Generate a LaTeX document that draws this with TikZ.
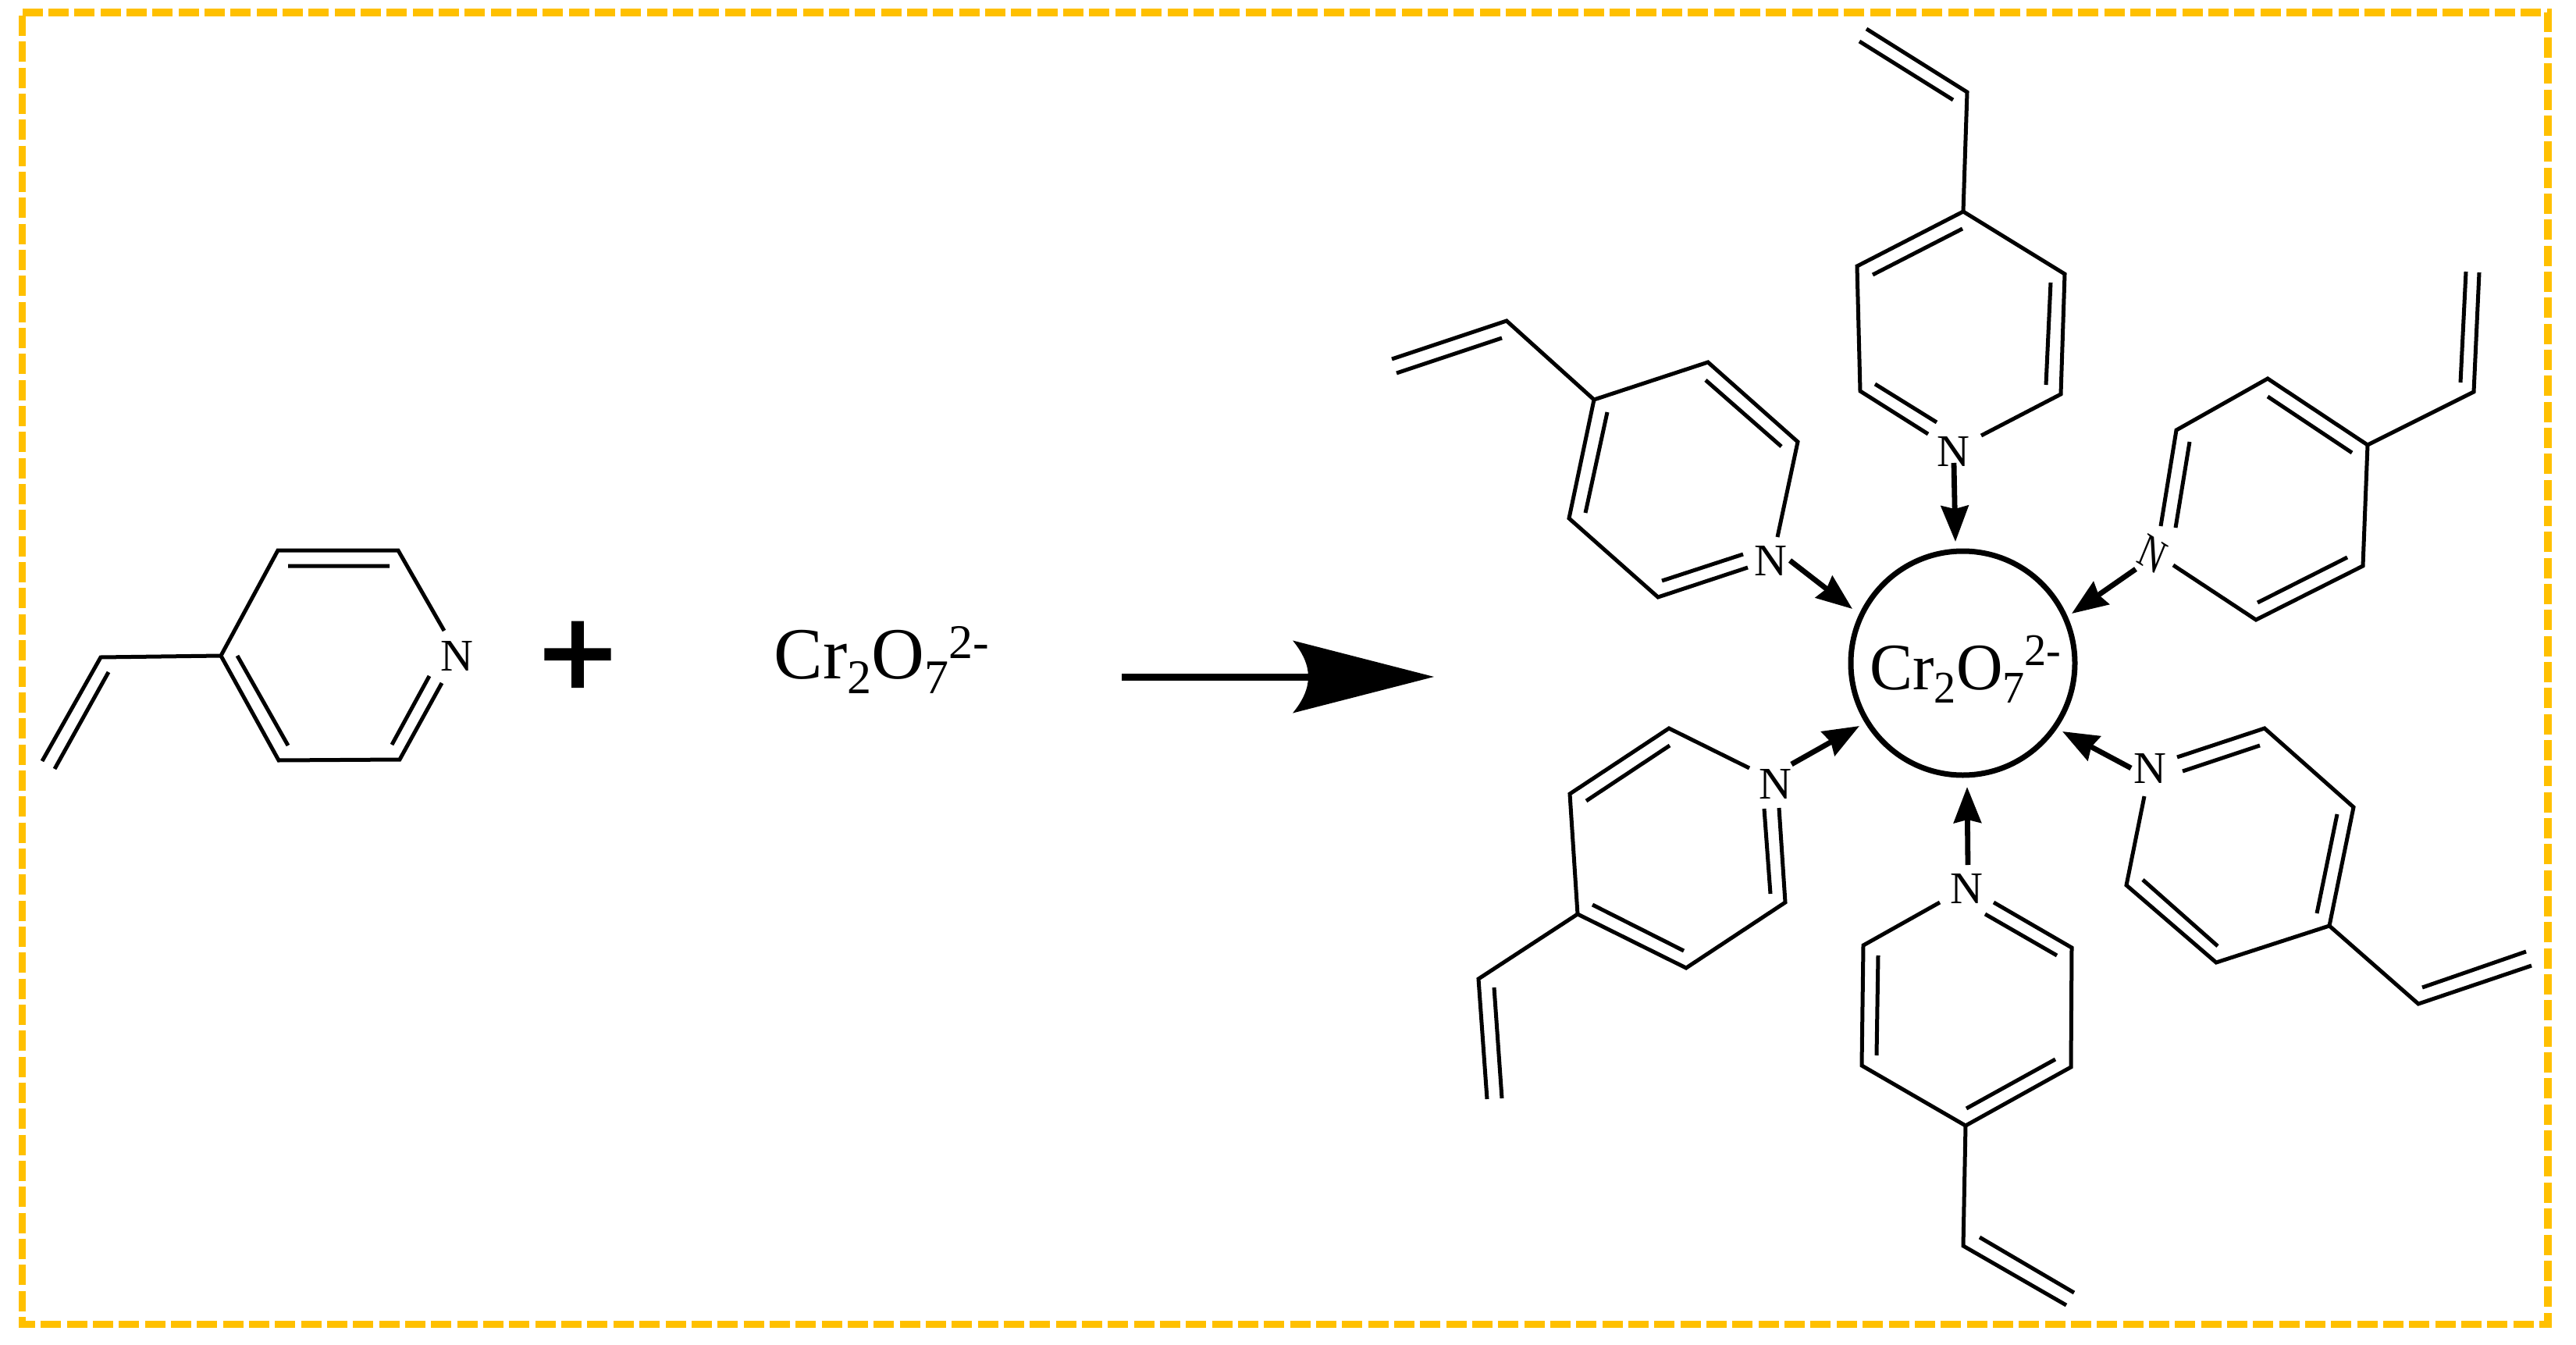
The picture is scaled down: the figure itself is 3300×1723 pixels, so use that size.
\documentclass[tikz,border=0pt]{standalone}
\usepackage{fontspec}
\setmainfont{Liberation Serif}
\newfontfamily\plusfont[FakeBold=2]{Liberation Serif Bold}
\usetikzlibrary{arrows.meta}
\definecolor{framegold}{HTML}{FFC000}
% big reaction arrow head with a concave back (sizes in pt, 1 px = 0.5 pt)
\pgfdeclarearrow{
  name=BigHead,
  setup code={
    \pgfarrowssettipend{90.5pt}
    \pgfarrowssetbackend{0pt}
    \pgfarrowssetlineend{13pt}
    \pgfarrowssetvisualbackend{10pt}
  },
  drawing code={
    \pgfpathmoveto{\pgfqpoint{90.5pt}{0pt}}
    \pgfpathlineto{\pgfqpoint{0pt}{23.25pt}}
    \pgfpathcurveto{\pgfqpoint{13.3pt}{7pt}}{\pgfqpoint{13.3pt}{-7pt}}{\pgfqpoint{0pt}{-23.25pt}}
    \pgfpathclose
    \pgfusepathqfill
  }
}
\newcommand{\crformula}[5]{\fontsize{#1}{#1}\selectfont Cr\raisebox{-#3}{\fontsize{#2}{#2}\selectfont 2}O\raisebox{-#3}{\fontsize{#2}{#2}\selectfont 7}\raisebox{#4}{\fontsize{#2}{#2}\selectfont 2#5}}
\tikzset{
  bondline/.style={line width=2.5pt,line join=miter,black},
  ligarrow/.style={line width=3.4pt,-{Stealth[length=23pt,width=17.5pt,inset=2pt]}},
  atomN/.style={inner sep=0pt,font=\fontsize{29}{29}\selectfont},
  frameline/.style={draw=framegold,line width=4.75pt,dash pattern=on 13pt off 3.67pt},
  ionlabel/.style={inner sep=0pt,anchor=base west},
}
\begin{document}
\begin{tikzpicture}[x=0.5pt,y=-0.5pt]
\useasboundingbox (0,0) rectangle (3300,1723);
% frame
\coordinate (f0) at (28.5,20);
\coordinate (f1) at (28.5,1696.5);
\coordinate (f2) at (3264,1696.5);
\coordinate (f3) at (3264,16);
\coordinate (f4) at (28.5,16);
\draw[frameline] (f0) -- (f1) -- (f2) -- (f3) -- (f4);
% ---------- free 4-vinylpyridine
\coordinate (a1) at (54,975); \coordinate (a2) at (129,842); \coordinate (a3) at (283,840);
\coordinate (a4) at (356,705); \coordinate (a5) at (510,705); \coordinate (a6) at (569,808);
\coordinate (a7) at (566,875); \coordinate (a8) at (512,973); \coordinate (a9) at (357,974);
\coordinate (ai1) at (70,985); \coordinate (ai2) at (139,861);
\coordinate (ai3) at (304,840); \coordinate (ai4) at (369,955);
\coordinate (ai5) at (369,725); \coordinate (ai6) at (499,725);
\coordinate (ai7) at (550,866); \coordinate (ai8) at (502,954);
\node[atomN] (Na) at (585,841) {N};
\draw[bondline] (a1)--(a2)--(a3)--(a4)--(a5)--(a6);
\draw[bondline] (a7)--(a8)--(a9)--(a3);
\draw[bondline] (ai1)--(ai2) (ai3)--(ai4) (ai5)--(ai6) (ai7)--(ai8);
% plus and dichromate
\node[inner sep=0pt,font=\fontsize{88}{88}\selectfont\plusfont] (plus) at (740,847) {+};
\node[ionlabel] (crleft) at (991,869) {\crformula{47pt}{31pt}{9.5pt}{13pt}{-}};
% reaction arrow
\coordinate (ra) at (1437,867);
\coordinate (rb) at (1837,867);
\draw[line width=4.5pt,-{BigHead}] (ra) -- (rb);
% ---------- central ion
\node[circle,draw,line width=3.5pt,minimum size=143.5pt,inner sep=0pt] (core) at (2514.5,849.5) {};
\node[ionlabel] (crcore) at (2395,883) {\scalebox{0.97}[1]{\crformula{42.5pt}{29pt}{8.5pt}{15.5pt}{-}}};
% ---------- top ligand
\coordinate (t1) at (2391,37); \coordinate (t2) at (2520,118); \coordinate (t3) at (2515,271);
\coordinate (t4) at (2379,341); \coordinate (t5) at (2383,501); \coordinate (t6) at (2470,556);
\coordinate (t7) at (2538,558); \coordinate (t8) at (2640,505); \coordinate (t9) at (2645,351);
\coordinate (ti1) at (2382,53); \coordinate (ti2) at (2502,128);
\coordinate (ti3) at (2514,293); \coordinate (ti4) at (2399,352);
\coordinate (ti5) at (2402,492); \coordinate (ti6) at (2481,541);
\coordinate (ti7) at (2627,362); \coordinate (ti8) at (2621,493);
\node[atomN] (Nt) at (2502,579) {N};
\draw[bondline] (t1)--(t2)--(t3)--(t4)--(t5)--(t6);
\draw[bondline] (t7)--(t8)--(t9)--(t3);
\draw[bondline] (ti1)--(ti2) (ti3)--(ti4) (ti5)--(ti6) (ti7)--(ti8);
\coordinate (ta) at (2503,593); \coordinate (tb) at (2505,694);
\draw[ligarrow] (ta) -- (tb);
% ---------- upper-left ligand
\coordinate (u1) at (1783,460); \coordinate (u2) at (1930,411); \coordinate (u3) at (2042,512);
\coordinate (u4) at (2188,464); \coordinate (u5) at (2303,566); \coordinate (u6) at (2277,688);
\coordinate (u7) at (2239,727); \coordinate (u8) at (2124,765); \coordinate (u9) at (2010,664);
\coordinate (ui1) at (1789,478); \coordinate (ui2) at (1924,433);
\coordinate (ui3) at (2185,487); \coordinate (ui4) at (2282,572);
\coordinate (ui5) at (2059,528); \coordinate (ui6) at (2031,657);
\coordinate (ui7) at (2129,744); \coordinate (ui8) at (2233,710);
\node[atomN] (Nu) at (2268,719) {N};
\draw[bondline] (u1)--(u2)--(u3)--(u4)--(u5)--(u6);
\draw[bondline] (u7)--(u8)--(u9)--(u3);
\draw[bondline] (ui1)--(ui2) (ui3)--(ui4) (ui5)--(ui6) (ui7)--(ui8);
\coordinate (ua) at (2293,718); \coordinate (ub) at (2373,780);
\draw[ligarrow] (ua) -- (ub);
% ---------- upper-right ligand
\coordinate (r1) at (3176,349); \coordinate (r2) at (3169,502); \coordinate (r3) at (3033,570);
\coordinate (r4) at (2905,485); \coordinate (r5) at (2788,551); \coordinate (r6) at (2768,674);
\coordinate (r7) at (2784,724); \coordinate (r8) at (2890,794); \coordinate (r9) at (3027,725);
\coordinate (ri1) at (3159,348); \coordinate (ri2) at (3152,490);
\coordinate (ri3) at (3013,580); \coordinate (ri4) at (2905,508);
\coordinate (ri5) at (2805,566); \coordinate (ri6) at (2787,676);
\coordinate (ri7) at (3007,714); \coordinate (ri8) at (2892,772);
\node[atomN,transform shape,cm={0.685,-0.42,0.40,0.97,(2757,710)}] (Nr) at (0,0) {N};
\draw[bondline] (r1)--(r2)--(r3)--(r4)--(r5)--(r6);
\draw[bondline] (r7)--(r8)--(r9)--(r3);
\draw[bondline] (ri1)--(ri2) (ri3)--(ri4) (ri5)--(ri6) (ri7)--(ri8);
\coordinate (ra1) at (2736,729); \coordinate (rb1) at (2654,786);
\draw[ligarrow] (ra1) -- (rb1);
% ---------- lower-left ligand
\coordinate (l1) at (1905,1408); \coordinate (l2) at (1894,1254); \coordinate (l3) at (2021,1171);
\coordinate (l4) at (2011,1017); \coordinate (l5) at (2138,933); \coordinate (l6) at (2241,984);
\coordinate (l7) at (2279,1035); \coordinate (l8) at (2287,1156); \coordinate (l9) at (2160,1240);
\coordinate (li1) at (1924,1407); \coordinate (li2) at (1914,1265);
\coordinate (li3) at (2032,1026); \coordinate (li4) at (2139,955);
\coordinate (li5) at (2260,1036); \coordinate (li6) at (2268,1145);
\coordinate (li7) at (2157,1218); \coordinate (li8) at (2040,1159);
\node[atomN] (Nl) at (2274,1005) {N};
\draw[bondline] (l1)--(l2)--(l3)--(l4)--(l5)--(l6);
\draw[bondline] (l7)--(l8)--(l9)--(l3);
\draw[bondline] (li1)--(li2) (li3)--(li4) (li5)--(li6) (li7)--(li8);
\coordinate (la) at (2295,979); \coordinate (lb) at (2382,930);
\draw[ligarrow] (la) -- (lb);
% ---------- bottom ligand
\coordinate (b1) at (2647,1672); \coordinate (b2) at (2515,1596); \coordinate (b3) at (2518,1442);
\coordinate (b4) at (2385,1365); \coordinate (b5) at (2387,1211); \coordinate (b6) at (2485,1156);
\coordinate (b7) at (2554,1156); \coordinate (b8) at (2654,1214); \coordinate (b9) at (2653,1367);
\coordinate (bi1) at (2657,1656); \coordinate (bi2) at (2536,1585);
\coordinate (bi3) at (2404,1352); \coordinate (bi4) at (2406,1224);
\coordinate (bi5) at (2543,1171); \coordinate (bi6) at (2635,1224);
\coordinate (bi7) at (2633,1357); \coordinate (bi8) at (2519,1420);
\node[atomN] (Nb) at (2519,1139) {N};
\draw[bondline] (b1)--(b2)--(b3)--(b4)--(b5)--(b6);
\draw[bondline] (b7)--(b8)--(b9)--(b3);
\draw[bondline] (bi1)--(bi2) (bi3)--(bi4) (bi5)--(bi6) (bi7)--(bi8);
\coordinate (ba) at (2521,1108); \coordinate (bb) at (2520,1008);
\draw[ligarrow] (ba) -- (bb);
% ---------- lower-right ligand
\coordinate (e1) at (3243,1237); \coordinate (e2) at (3098,1286); \coordinate (e3) at (2984,1186);
\coordinate (e4) at (2839,1233); \coordinate (e5) at (2724,1134); \coordinate (e6) at (2747,1020);
\coordinate (e7) at (2789,970); \coordinate (e8) at (2901,933); \coordinate (e9) at (3015,1034);
\coordinate (ei1) at (3236,1219); \coordinate (ei2) at (3103,1265);
\coordinate (ei3) at (2841,1212); \coordinate (ei4) at (2745,1127);
\coordinate (ei5) at (2796,988); \coordinate (ei6) at (2895,955);
\coordinate (ei7) at (2994,1043); \coordinate (ei8) at (2968,1170);
\node[atomN] (Ne) at (2754,985) {N};
\draw[bondline] (e1)--(e2)--(e3)--(e4)--(e5)--(e6);
\draw[bondline] (e7)--(e8)--(e9)--(e3);
\draw[bondline] (ei1)--(ei2) (ei3)--(ei4) (ei5)--(ei6) (ei7)--(ei8);
\coordinate (ea) at (2730,984); \coordinate (eb) at (2642,937);
\draw[ligarrow] (ea) -- (eb);
\end{tikzpicture}
\end{document}
